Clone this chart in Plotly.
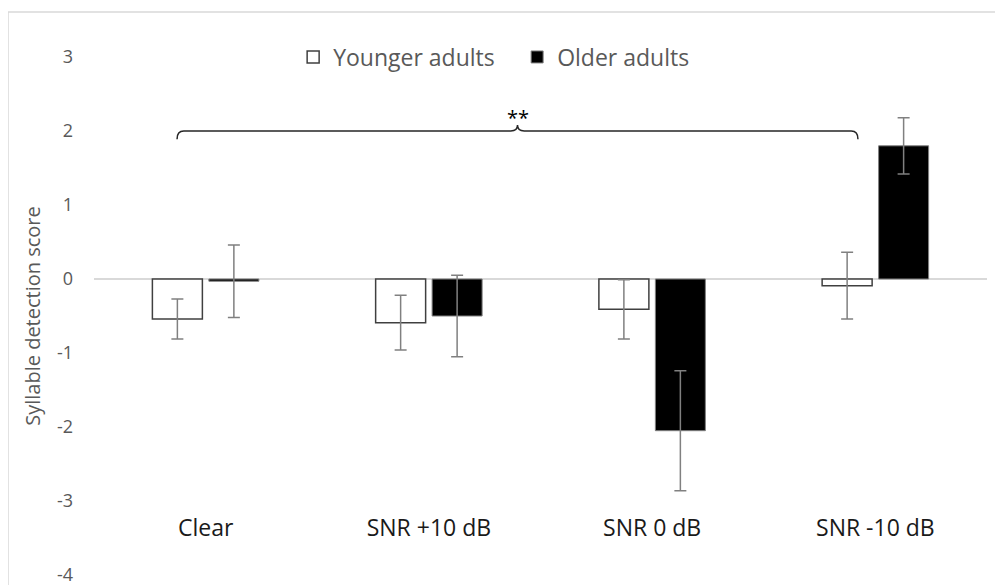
import plotly.graph_objects as go

categories = ["Clear", "SNR +10 dB", "SNR 0 dB", "SNR -10 dB"]
younger_mean = [-0.54, -0.59, -0.41, -0.09]
younger_err = [0.27, 0.37, 0.40, 0.45]
older_mean = [-0.03, -0.50, -2.05, 1.80]
older_err = [0.49, 0.55, 0.81, 0.38]
y_ticks = [3, 2, 1, 0, -1, -2, -3, -4]
y_ticklabels = [str(v) for v in y_ticks]

xpos = list(range(len(categories)))

FONT = "Open Sans"
GREY = "#595959"

fig = go.Figure()
fig.add_trace(go.Bar(
    x=xpos, y=younger_mean, name="Younger adults",
    marker=dict(color="white", line=dict(color="#404040", width=1.5)),
    error_y=dict(type="data", array=younger_err, visible=True,
                 color="#808080", thickness=1.5, width=6),
))
fig.add_trace(go.Bar(
    x=xpos, y=older_mean, name="Older adults",
    marker=dict(color="black", line=dict(color="#808080", width=1)),
    error_y=dict(type="data", array=older_err, visible=True,
                 color="#808080", thickness=1.5, width=6),
))

# curly brace + significance stars
x0, x1 = -0.128, 2.922
xc = (x0 + x1) / 2
yb, ye, yp = 2.0, 1.89, 2.08
dx = 0.03
path = (f"M {x0},{ye} Q {x0},{yb} {x0+dx},{yb} L {xc-dx},{yb} "
        f"Q {xc},{yb} {xc},{yp} Q {xc},{yb} {xc+dx},{yb} "
        f"L {x1-dx},{yb} Q {x1},{yb} {x1},{ye}")
fig.add_shape(type="path", path=path, xref="x", yref="y",
              line=dict(color="#262626", width=1.5))
fig.add_annotation(x=xc, y=2.18, xref="x", yref="y", text="**",
                   showarrow=False, font=dict(family=FONT, size=20, color="black"))

# chart frame
fig.add_shape(type="rect", xref="paper", yref="paper",
              x0=-0.0963, x1=1.05, y0=-0.05, y1=1.0869,
              line=dict(color="#d9d9d9", width=1.5), layer="below")

fig.update_layout(
    width=1003, height=585,
    margin=dict(l=86, r=24, t=49, b=18, autoexpand=False),
    plot_bgcolor="white", paper_bgcolor="white",
    barmode="group", bargap=0.494, bargroupgap=0.115,
    font=dict(family=FONT, color=GREY),
    showlegend=True,
    legend=dict(orientation="h", x=0.223, xanchor="left", y=1.0, yanchor="middle",
                entrywidth=179, entrywidthmode="pixels",
                font=dict(family=FONT, size=23, color=GREY),
                bgcolor="rgba(0,0,0,0)"),
    xaxis=dict(tickvals=xpos, ticktext=categories, range=[-0.5, 3.5],
               showgrid=False, zeroline=False, showline=False, ticks="",
               anchor="free", position=0.1216, automargin=False,
               tickfont=dict(family=FONT, size=23, color="#1a1a1a")),
    yaxis=dict(range=[-4, 3], tickvals=y_ticks, ticktext=y_ticklabels,
               showgrid=False, automargin=False,
               zeroline=True, zerolinecolor="#d9d9d9", zerolinewidth=1.5,
               showline=False, ticks="", ticklabelstandoff=20,
               tickfont=dict(family=FONT, size=18, color=GREY),
               title=dict(text="Syllable detection score", standoff=10,
                          font=dict(family=FONT, size=20, color=GREY))),
)

fig.write_html("out.html")
